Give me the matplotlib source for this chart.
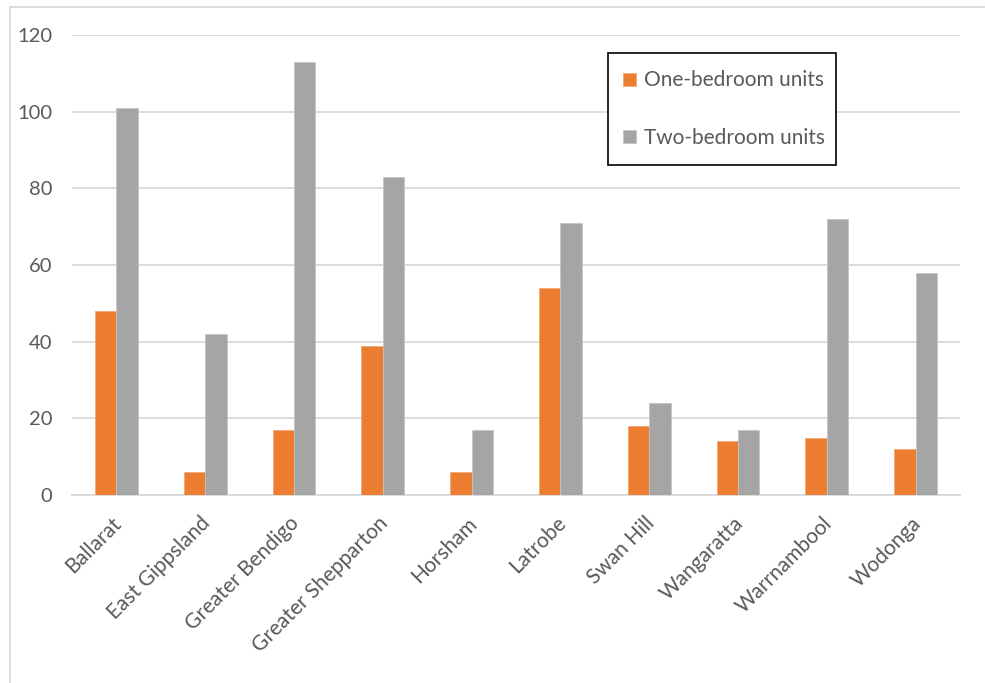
import matplotlib
matplotlib.use("Agg")
import matplotlib.pyplot as plt
from matplotlib.lines import Line2D
from matplotlib.patches import Rectangle
from matplotlib.transforms import ScaledTranslation
import numpy as np

regions = ["Ballarat", "East Gippsland", "Greater Bendigo", "Greater Shepparton",
           "Horsham", "Latrobe", "Swan Hill", "Wangaratta", "Warrnambool", "Wodonga"]
one_bedroom = [48, 6, 17, 39, 6, 54, 18, 14, 15, 12]
two_bedroom = [101, 42, 113, 83, 17, 71, 24, 17, 72, 58]
y_ticks = [0, 20, 40, 60, 80, 100, 120]

ORANGE = "#ED7D31"
GREY = "#A5A5A5"
TEXT = "#595959"
GRID = "#D9D9D9"

plt.rcParams["font.family"] = ["Lato", "DejaVu Sans"]

W, H = 985, 683
fig = plt.figure(figsize=(W / 100, H / 100), dpi=100)
ax = fig.add_axes([72 / W, 1 - 495 / H, 888 / W, 460 / H])

x = np.arange(len(regions))
w = 0.24
ax.bar(x - w / 2, one_bedroom, width=w, color=ORANGE, label="One-bedroom units",
       edgecolor="#F4A877", linewidth=0.6, zorder=3)
ax.bar(x + w / 2, two_bedroom, width=w, color=GREY, label="Two-bedroom units",
       edgecolor="#C4C4C4", linewidth=0.6, zorder=3)

ax.set_xlim(-0.5, len(regions) - 0.5)
ax.set_ylim(0, 120)
ax.set_yticks(y_ticks)
ax.set_yticklabels([str(v) for v in y_ticks])
ax.set_xticks(x)
ax.set_xticklabels(regions, rotation=45, ha="right", va="top", rotation_mode="anchor")

ax.tick_params(axis="y", length=0, pad=14, labelsize=14.5, labelcolor=TEXT)
ax.tick_params(axis="x", length=0, pad=13, labelsize=15, labelcolor=TEXT)

# nudge the rotated category labels slightly to the left
shift = ScaledTranslation(-5 / 100, 0, fig.dpi_scale_trans)
for lbl in ax.get_xticklabels():
    lbl.set_transform(lbl.get_transform() + shift)

ax.grid(axis="y", color=GRID, linewidth=1.3, zorder=0)
for side in ["top", "right", "left"]:
    ax.spines[side].set_visible(False)
ax.spines["bottom"].set_color(GRID)
ax.spines["bottom"].set_linewidth(1.3)

# legend box: white panel with a black outline
box = Rectangle((608 / W, 1 - 165 / H), 228 / W, 112 / H, transform=fig.transFigure,
                facecolor="white", edgecolor="black", linewidth=1.2, zorder=4,
                clip_on=False)
ax.add_patch(box)

leg = ax.legend(loc="upper left", bbox_to_anchor=(623 / W, 1 - 70.5 / H),
                bbox_transform=fig.transFigure, frameon=False,
                fontsize=15, labelcolor=TEXT, handlelength=0.6, handleheight=0.6,
                handletextpad=0.4, labelspacing=1.8, borderpad=0, borderaxespad=0)
leg.set_zorder(5)

# outer chart-area border (top and left edges)
fig.add_artist(Line2D([10 / W, 10 / W], [0, 1 - 7 / H], transform=fig.transFigure,
                      color=GRID, linewidth=1.3))
fig.add_artist(Line2D([10 / W, 984 / W], [1 - 7 / H, 1 - 7 / H],
                      transform=fig.transFigure, color=GRID, linewidth=1.3))

fig.savefig("out.png", dpi=100, facecolor="white")
